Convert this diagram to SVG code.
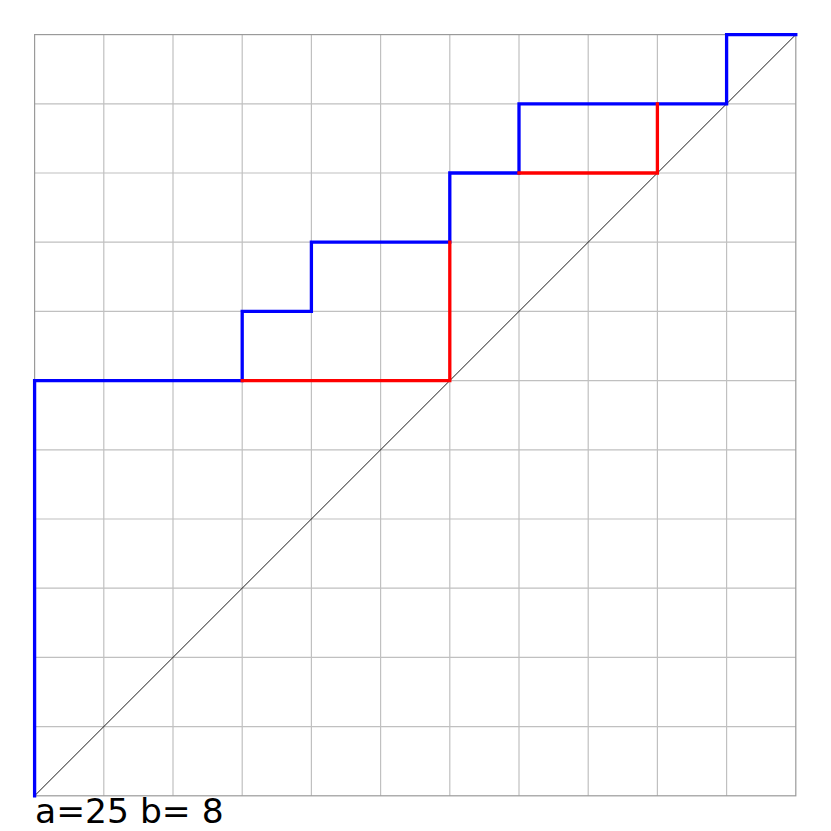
<svg xmlns="http://www.w3.org/2000/svg" width="831" height="831" viewBox="0 0 831 831">
<style>
.gi{stroke:#c0c0c0;stroke-width:1.2;fill:none}
.go{stroke:#9a9a9a;stroke-width:1.2;fill:none}
.diag{stroke:#000;stroke-width:0.9;fill:none}
.blue{stroke:#0000ff;stroke-width:3.3;fill:none;stroke-linejoin:miter;stroke-linecap:square}
.red{stroke:#ff0000;stroke-width:3.3;fill:none;stroke-linecap:square}
.lbl{font-family:"DejaVu Sans",sans-serif;font-size:34.5px;fill:#000}
</style>
<rect width="831" height="831" fill="#fff"/>
<g id="grid">
<path class="gi" d="M103.8 34.6V795.8M173 34.6V795.8M242.2 34.6V795.8M311.4 34.6V795.8M380.6 34.6V795.8M449.8 34.6V795.8M519 34.6V795.8M588.2 34.6V795.8M657.4 34.6V795.8M726.6 34.6V795.8"/>
<path class="gi" d="M34.6 103.8H795.8M34.6 173H795.8M34.6 242.2H795.8M34.6 311.4H795.8M34.6 380.6H795.8M34.6 449.8H795.8M34.6 519H795.8M34.6 588.2H795.8M34.6 657.4H795.8M34.6 726.6H795.8"/>
<rect class="go" x="34.6" y="34.6" width="761.2" height="761.2"/>
</g>
<g id="connectors">
<path class="diag" d="M34.6 795.8L795.8 34.6"/>
<path id="blue-path" class="blue" d="M34.6 795.8V380.6H242.2V311.4H311.4V242.2H449.8V173H519V103.8H726.6V34.6H795.8"/>
<path id="red-1" class="red" d="M242.2 380.6H449.8V242.2"/>
<path id="red-2" class="red" d="M519 173H657.4V103.8"/>
</g>
<text class="lbl" x="35" y="823">a=25 b= 8</text>
</svg>
